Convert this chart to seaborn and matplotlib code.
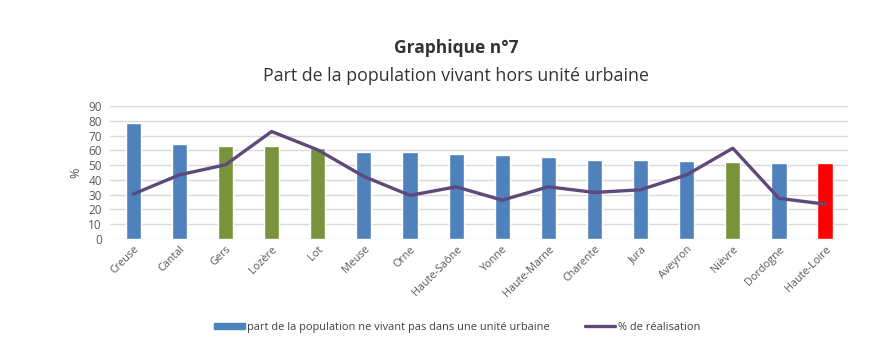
import pandas as pd
import seaborn as sns
import matplotlib
matplotlib.use("Agg")
import matplotlib.pyplot as plt
from matplotlib.patches import Patch
from matplotlib.lines import Line2D

# Data
departements = ["Creuse", "Cantal", "Gers", "Lozère", "Lot", "Meuse", "Orne", "Haute-Saône",
                "Yonne", "Haute-Marne", "Charente", "Jura", "Aveyron", "Nièvre", "Dordogne",
                "Haute-Loire"]
part_hors_uu = [78.7, 64.5, 63.1, 62.7, 61.5, 59.0, 58.8, 57.7,
                57.1, 55.7, 53.7, 53.7, 52.8, 52.3, 51.6, 51.6]
realisation = [30.4, 43.4, 50.2, 72.7, 60.3, 42.3, 29.5, 35.3,
               26.3, 35.3, 31.5, 33.3, 43.4, 61.4, 27.5, 23.6]
groupe = ["autre", "autre", "vert", "vert", "vert", "autre", "autre", "autre",
          "autre", "autre", "autre", "autre", "autre", "vert", "autre", "haute-loire"]

df = pd.DataFrame({"dep": departements, "part": part_hors_uu,
                   "real": realisation, "groupe": groupe})

sns.set_theme(style="white")
plt.rcParams["font.family"] = ["Open Sans", "DejaVu Sans"]

fig = plt.figure(figsize=(8.89, 3.52), dpi=100)
ax = fig.add_axes([0.124, 0.321, 0.83, 0.378])

palette = {"autre": "#4F81BD", "vert": "#77933C", "haute-loire": "#FF0000"}
sns.barplot(data=df, x="dep", y="part", hue="groupe", palette=palette,
            dodge=False, width=0.33, legend=False, saturation=1, ax=ax, zorder=2)
sns.lineplot(x=range(len(departements)), y=realisation, color="#5F497A",
             linewidth=2.4, ax=ax, zorder=3)

ax.set_ylim(0, 90)
ax.set_yticks(range(0, 91, 10))
ax.set_xlim(-0.5, len(departements) - 0.5)
ax.grid(axis="y", color="#D9D9D9", linewidth=1, zorder=0)
ax.set_axisbelow(True)
for s in ax.spines.values():
    s.set_visible(False)
ax.tick_params(axis="both", length=0, colors="#595959", labelsize=8.5)
ax.tick_params(axis="y", pad=6)
ax.set_xticks(range(len(departements)))
ax.set_xticklabels(departements, rotation=45, ha="right", rotation_mode="anchor",
                   fontsize=7.8, color="#595959")
ax.set_xlabel("")
ax.set_ylabel("%", color="#595959", fontsize=9, labelpad=4)

fig.text(0.513, 0.865, "Graphique n°7", ha="center", va="center",
         fontsize=12.5, fontweight="bold", color="#333333")
fig.text(0.513, 0.785, "Part de la population vivant hors unité urbaine", ha="center",
         va="center", fontsize=12.8, color="#333333")

handles = [Patch(color="#4F81BD", label="part de la population ne vivant pas dans une unité urbaine"),
           Line2D([0], [0], color="#5F497A", linewidth=2.4, label="% de réalisation")]
fig.legend(handles=handles, loc="center", bbox_to_anchor=(0.514, 0.07), ncol=2,
           frameon=False, fontsize=7.9, handlelength=2.8, handleheight=0.6,
           columnspacing=3.2, handletextpad=0.2, labelcolor="#404040")

fig.savefig("out.png", dpi=100, facecolor="white")
